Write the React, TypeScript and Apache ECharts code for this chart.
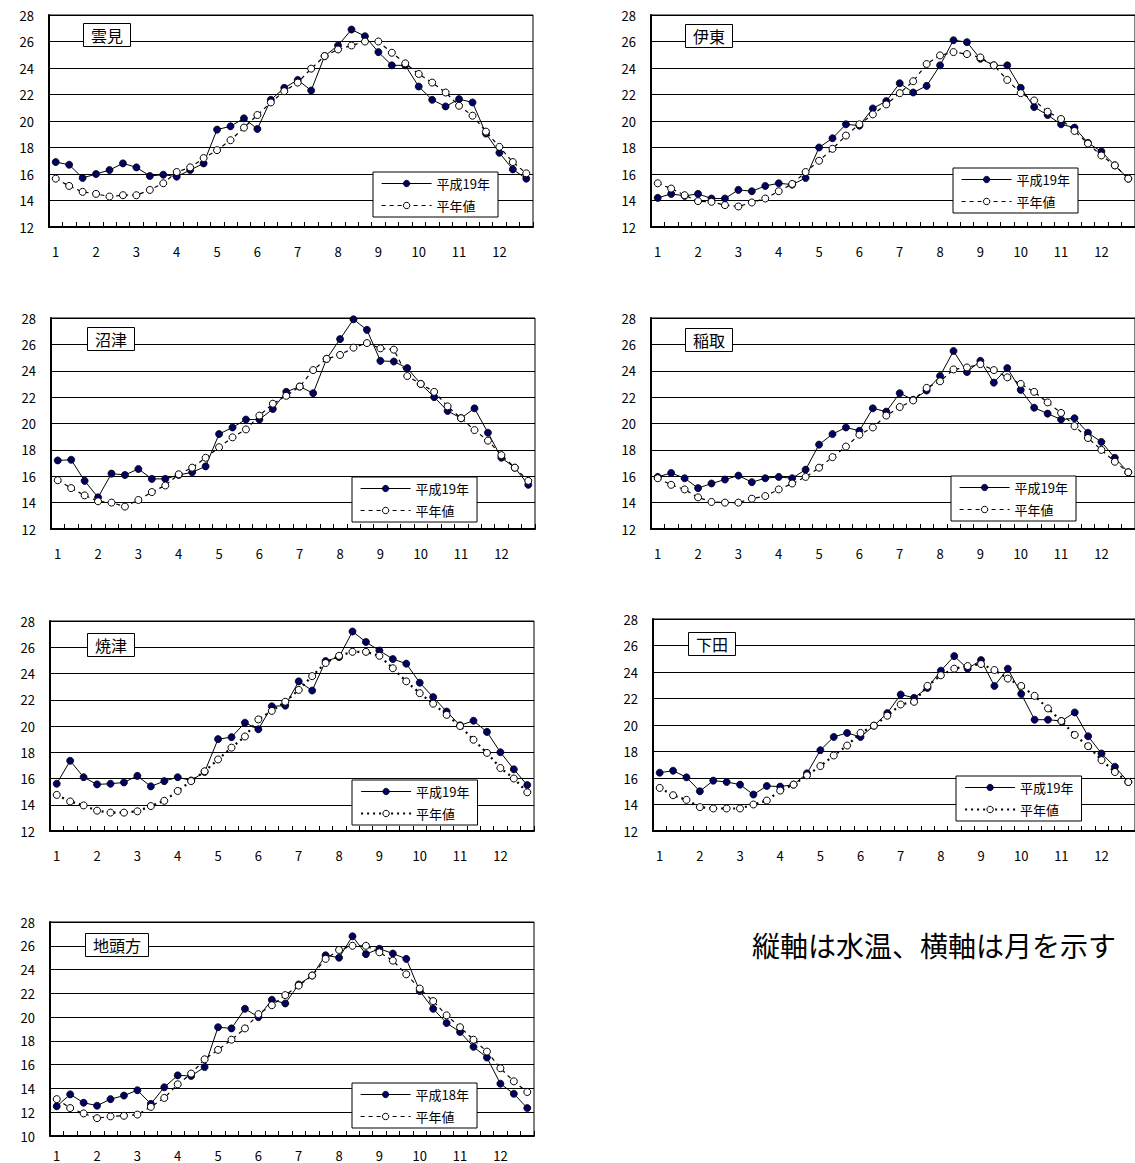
import React, { useEffect, useRef } from 'react';
import * as echarts from 'echarts';

// ---- categories (3 dekads per month) ----
const months = [1, 2, 3, 4, 5, 6, 7, 8, 9, 10, 11, 12];
const dekads = ['上旬', '中旬', '下旬'];
const categories = months.flatMap((m) => dekads.map((d) => `${m}月${d}`));

// ---- station names / legend texts ----
const stationNames = ['雲見', '伊東', '沼津', '稲取', '焼津', '下田', '地頭方'];
const yearLabels = ['平成19年', '平成19年', '平成19年', '平成19年', '平成19年', '平成19年', '平成18年'];
const normalLabel = '平年値';
const yMins = [12, 12, 12, 12, 12, 12, 10];
const yMax = 28;
const yInterval = 2;
const noteText = '縦軸は水温、横軸は月を示す';

// ---- values (water temperature, °C) ----
const unmiYear = [16.9, 16.7, 15.7, 16.0, 16.3, 16.8, 16.5, 15.85, 15.95, 15.8, 16.3, 16.8, 19.35, 19.6, 20.2, 19.4, 21.6, 22.5, 23.1, 22.3, 24.9, 25.7, 26.9, 26.4, 25.2, 24.2, 24.2, 22.6, 21.6, 21.1, 21.65, 21.4, 19.05, 17.6, 16.35, 15.65];
const unmiNormal = [15.65, 15.1, 14.65, 14.5, 14.3, 14.4, 14.4, 14.8, 15.3, 16.15, 16.5, 17.2, 17.8, 18.55, 19.5, 20.45, 21.4, 22.25, 22.9, 23.95, 24.9, 25.4, 25.7, 26.0, 26.0, 25.15, 24.35, 23.55, 22.9, 22.15, 21.15, 20.4, 19.2, 18.05, 16.9, 16.05];

const itoYear = [14.2, 14.5, 14.35, 14.5, 14.15, 14.15, 14.8, 14.7, 15.1, 15.3, 15.2, 15.7, 18.0, 18.7, 19.75, 19.65, 20.95, 21.5, 22.85, 22.15, 22.65, 24.2, 26.1, 25.95, 24.7, 24.2, 24.2, 22.5, 21.05, 20.45, 19.75, 19.5, 18.35, 17.7, 16.65, 15.65];
const itoNormal = [15.3, 14.9, 14.4, 13.95, 13.9, 13.65, 13.55, 13.85, 14.15, 14.7, 15.25, 16.15, 17.0, 17.9, 18.9, 19.75, 20.5, 21.25, 22.1, 23.0, 24.3, 24.95, 25.2, 25.05, 24.8, 24.2, 23.1, 22.1, 21.55, 20.7, 20.15, 19.25, 18.3, 17.4, 16.65, 15.65];

const numazuYear = [17.2, 17.25, 15.65, 14.4, 16.2, 16.1, 16.55, 15.8, 15.8, 16.1, 16.3, 16.75, 19.2, 19.7, 20.3, 20.3, 21.1, 22.4, 22.8, 22.3, 24.9, 26.4, 27.9, 27.1, 24.75, 24.7, 24.2, 23.0, 22.0, 20.95, 20.4, 21.15, 19.3, 17.4, 16.65, 15.35];
const numazuNormal = [15.7, 15.1, 14.55, 14.1, 14.0, 13.7, 14.2, 14.8, 15.3, 16.15, 16.65, 17.4, 18.2, 18.95, 19.55, 20.6, 21.5, 22.1, 22.8, 24.05, 24.9, 25.2, 25.75, 26.1, 25.7, 25.6, 23.6, 23.0, 22.4, 21.3, 20.4, 19.5, 18.7, 17.6, 16.65, 15.65];

const inatoriYear = [15.95, 16.25, 15.85, 15.1, 15.45, 15.75, 16.05, 15.55, 15.85, 15.95, 15.85, 16.5, 18.4, 19.2, 19.7, 19.45, 21.15, 20.9, 22.3, 21.8, 22.5, 23.6, 25.5, 23.9, 24.75, 23.1, 24.2, 22.55, 21.2, 20.75, 20.3, 20.4, 19.3, 18.6, 17.4, 16.3];
const inatoriNormal = [15.85, 15.35, 15.0, 14.4, 14.05, 14.0, 14.0, 14.3, 14.5, 15.0, 15.45, 15.95, 16.65, 17.45, 18.25, 19.15, 19.7, 20.6, 21.25, 21.75, 22.7, 23.2, 24.1, 24.25, 24.5, 24.05, 23.5, 23.0, 22.4, 21.6, 20.8, 19.8, 18.9, 18.0, 17.1, 16.3];

const yaizuYear = [15.6, 17.35, 16.1, 15.55, 15.6, 15.7, 16.2, 15.4, 15.8, 16.1, 15.85, 16.5, 19.0, 19.15, 20.25, 19.75, 21.5, 21.55, 23.4, 22.7, 24.95, 25.25, 27.2, 26.4, 25.75, 25.1, 24.75, 23.3, 22.2, 21.1, 20.05, 20.4, 19.55, 18.0, 16.7, 15.5];
const yaizuNormal = [14.75, 14.25, 13.95, 13.55, 13.4, 13.4, 13.5, 13.9, 14.3, 15.05, 15.8, 16.55, 17.45, 18.35, 19.2, 20.5, 21.15, 21.85, 22.75, 23.8, 24.8, 25.35, 25.65, 25.65, 25.35, 24.4, 23.4, 22.5, 21.7, 20.85, 20.0, 18.95, 17.95, 16.8, 16.0, 14.95];

const shimodaYear = [16.4, 16.55, 16.05, 15.0, 15.8, 15.7, 15.5, 14.75, 15.4, 15.35, 15.5, 16.35, 18.1, 19.1, 19.4, 19.1, 19.95, 20.9, 22.3, 22.05, 22.8, 24.1, 25.2, 24.25, 24.9, 22.95, 24.25, 22.35, 20.4, 20.4, 20.3, 20.95, 19.15, 17.85, 16.85, 15.7];
const shimodaNormal = [15.25, 14.7, 14.35, 13.8, 13.7, 13.7, 13.7, 14.0, 14.3, 15.05, 15.5, 16.2, 16.9, 17.7, 18.45, 19.4, 19.95, 20.7, 21.55, 21.75, 22.95, 23.75, 24.25, 24.45, 24.6, 24.15, 23.5, 22.95, 22.2, 21.25, 20.3, 19.25, 18.4, 17.35, 16.45, 15.7];

const jitogataYear = [12.5, 13.5, 12.8, 12.55, 13.1, 13.4, 13.85, 12.7, 14.1, 15.1, 15.05, 15.8, 19.15, 19.05, 20.7, 20.0, 21.45, 21.15, 22.75, 23.5, 25.2, 25.0, 26.8, 25.3, 25.75, 25.35, 24.9, 22.2, 20.7, 19.5, 18.75, 17.5, 16.6, 14.4, 13.55, 12.35];
const jitogataNormal = [13.1, 12.35, 11.9, 11.5, 11.65, 11.7, 11.8, 12.45, 13.2, 14.35, 15.25, 16.45, 17.25, 18.1, 19.05, 20.25, 21.0, 21.85, 22.65, 23.5, 24.9, 25.65, 26.0, 26.0, 25.45, 24.75, 23.6, 22.4, 21.35, 20.15, 19.15, 18.1, 17.1, 15.7, 14.6, 13.7];

const yearSeries = [unmiYear, itoYear, numazuYear, inatoriYear, yaizuYear, shimodaYear, jitogataYear];
const normalSeries = [unmiNormal, itoNormal, numazuNormal, inatoriNormal, yaizuNormal, shimodaNormal, jitogataNormal];

// ---- layout (pixels) ----
const layout = [
  { grid: { left: 49, top: 15, width: 484, height: 212 }, title: { left: 83, top: 23 }, legend: { left: 373, top: 172 }, dotted: false, xMargin: 17 },
  { grid: { left: 651, top: 15, width: 484, height: 212 }, title: { left: 685, top: 24 }, legend: { left: 953, top: 168 }, dotted: false, xMargin: 17 },
  { grid: { left: 51, top: 318, width: 484, height: 211 }, title: { left: 87, top: 327 }, legend: { left: 352, top: 477 }, dotted: false, xMargin: 17 },
  { grid: { left: 651, top: 318, width: 484, height: 211 }, title: { left: 685, top: 328 }, legend: { left: 951, top: 476 }, dotted: false, xMargin: 17 },
  { grid: { left: 50, top: 621, width: 484, height: 210 }, title: { left: 87, top: 633 }, legend: { left: 352, top: 780 }, dotted: true, xMargin: 17 },
  { grid: { left: 653, top: 619, width: 484, height: 212 }, title: { left: 688, top: 632 }, legend: { left: 956, top: 776 }, dotted: true, xMargin: 17 },
  { grid: { left: 50, top: 922, width: 484, height: 214 }, title: { left: 85, top: 933 }, legend: { left: 352, top: 1083 }, dotted: false, xMargin: 12 },
];

const FONT = "'Noto Sans CJK JP', 'Noto Sans', sans-serif";

function normalLine(dotted: boolean) {
  return dotted
    ? { color: '#000', width: 2.2, type: [2, 4] as number[] }
    : { color: '#000', width: 1.2, type: [4, 4] as number[] };
}

export default function App() {
  const ref = useRef<HTMLDivElement>(null);

  useEffect(() => {
    if (!ref.current) return;
    const chart = echarts.init(ref.current, undefined, { renderer: 'svg' });

    const option: any = {
      animation: false,
      backgroundColor: '#fff',
      textStyle: { fontFamily: FONT, color: '#000' },
      grid: layout.map((l) => ({
        ...l.grid,
        show: true,
        borderColor: '#000',
        borderWidth: 1,
        backgroundColor: '#fff',
        containLabel: false,
      })),
      xAxis: layout.map((l, i) => ({
        type: 'category',
        gridIndex: i,
        data: categories,
        boundaryGap: true,
        axisLine: { show: true, lineStyle: { color: '#000', width: 2 } },
        axisTick: { show: true, inside: true, interval: 0, length: 5, lineStyle: { color: '#000', width: 1 } },
        axisLabel: {
          interval: (idx: number) => idx % 3 === 0,
          formatter: (v: string) => v.split('月')[0],
          color: '#000',
          fontSize: 13,
          fontFamily: FONT,
          margin: l.xMargin,
          lineHeight: 14,
        },
        splitLine: { show: false },
      })),
      yAxis: layout.map((_, i) => ({
        type: 'value',
        gridIndex: i,
        min: yMins[i],
        max: yMax,
        interval: yInterval,
        axisLine: { show: true, lineStyle: { color: '#000', width: 2 } },
        axisTick: { show: false },
        axisLabel: { color: '#000', fontSize: 13, fontFamily: FONT, margin: 15 },
        splitLine: { show: true, lineStyle: { color: '#000', width: 1 } },
      })),
      title: layout.map((l, i) => ({
        text: stationNames[i],
        left: l.title.left,
        top: l.title.top,
        padding: [4, 8],
        borderColor: '#000',
        borderWidth: 1,
        backgroundColor: '#fff',
        textStyle: { fontSize: 16, fontWeight: 'normal', color: '#000', fontFamily: FONT },
      })),
      legend: layout.map((l, i) => ({
        left: l.legend.left,
        top: l.legend.top,
        orient: 'vertical',
        selectedMode: false,
        backgroundColor: '#fff',
        borderColor: '#000',
        borderWidth: 1,
        padding: [5, 8],
        itemWidth: 50,
        itemHeight: 8,
        itemGap: 9,
        textStyle: { fontSize: 13, color: '#000', fontFamily: FONT },
        data: [
          { name: yearLabels[i], lineStyle: { color: '#000', width: 1, type: 'solid' }, itemStyle: { color: '#000066', borderColor: '#000', borderWidth: 0.8 } },
          { name: normalLabel, lineStyle: normalLine(l.dotted), itemStyle: { color: '#fff', borderColor: '#000', borderWidth: 1 } },
        ],
      })),
      series: layout.flatMap((l, i) => [
        {
          type: 'line',
          name: yearLabels[i],
          xAxisIndex: i,
          yAxisIndex: i,
          data: yearSeries[i],
          symbol: 'circle',
          symbolSize: 7,
          lineStyle: { color: '#000', width: 1 },
          itemStyle: { color: '#000066', borderColor: '#000', borderWidth: 0.8 },
          z: 3,
        },
        {
          type: 'line',
          name: normalLabel,
          xAxisIndex: i,
          yAxisIndex: i,
          data: normalSeries[i],
          symbol: 'circle',
          symbolSize: 7,
          lineStyle: normalLine(l.dotted),
          itemStyle: { color: '#fff', borderColor: '#000', borderWidth: 1 },
          z: 4,
        },
      ]),
      graphic: [
        {
          type: 'text',
          left: 752,
          top: 931,
          style: { text: noteText, fontSize: 28, fill: '#000', fontFamily: FONT },
        },
      ],
    };

    chart.setOption(option);
    return () => chart.dispose();
  }, []);

  return (
    <div
      ref={ref}
      style={{ position: 'absolute', left: 0, top: 0, width: 1135, height: 1163, background: '#fff' }}
    />
  );
}
